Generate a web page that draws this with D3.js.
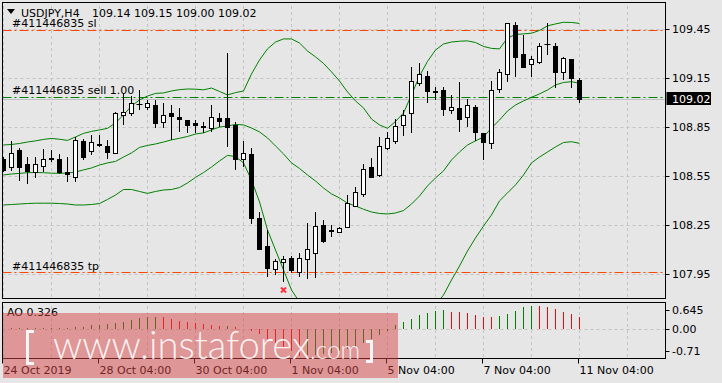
<!DOCTYPE html>
<html>
<head>
<meta charset="utf-8">
<script src="https://cdn.jsdelivr.net/npm/d3@7"></script>
<style>
  html, body { margin: 0; padding: 0; background: #e6e6e6; overflow: hidden; }
  svg { display: block; font-family: "DejaVu Sans", sans-serif; font-size: 11px; }
</style>
</head>
<body>
<svg id="chart" width="722" height="383"></svg>
<script>
// USDJPY H4 candles, 24 Oct 04:00 .. 11 Nov 04:00
const opens = [
  108.655, 108.604, 108.710, 108.625, 108.575, 108.612, 108.662, 108.655, 108.575, 108.547,
  108.767, 108.706, 108.747, 108.735, 108.690, 108.925, 108.935, 108.995, 108.972, 108.986,
  108.880, 108.939, 108.913, 108.894, 108.878, 108.855, 108.843, 108.908, 108.905, 108.864,
  108.653, 108.686, 108.293, 108.122, 107.979, 108.022, 108.046, 107.964, 108.040, 108.077,
  108.251, 108.220, 108.209, 108.240, 108.369, 108.439, 108.608, 108.559, 108.721, 108.767,
  108.862, 108.935, 109.123, 109.164, 109.072, 109.078, 108.956, 108.966, 108.911, 108.976,
  108.813, 108.751, 109.082, 109.174, 109.477, 109.299, 109.236, 109.251, 109.358, 109.348,
  109.187, 109.268, 109.140
];
const highs = [
  108.667, 108.766, 108.723, 108.669, 108.669, 108.718, 108.710, 108.684, 108.666, 108.788,
  108.778, 108.802, 108.802, 108.772, 108.945, 109.058, 109.041, 109.078, 109.017, 109.017,
  108.997, 108.986, 108.966, 108.896, 108.894, 108.884, 108.986, 108.939, 109.303, 108.880,
  108.766, 108.724, 108.332, 108.220, 108.042, 108.060, 108.062, 108.077, 108.265, 108.332,
  108.281, 108.251, 108.236, 108.434, 108.485, 108.625, 108.659, 108.788, 108.819, 108.902,
  108.956, 109.221, 109.245, 109.195, 109.098, 109.098, 109.047, 109.129, 109.021, 108.986,
  108.815, 109.135, 109.205, 109.491, 109.493, 109.415, 109.287, 109.364, 109.487, 109.364,
  109.282, 109.270, 109.150
];
const lows = [
  108.575, 108.583, 108.522, 108.502, 108.537, 108.577, 108.639, 108.561, 108.516, 108.516,
  108.649, 108.680, 108.727, 108.653, 108.684, 108.864, 108.919, 108.956, 108.956, 108.843,
  108.843, 108.772, 108.823, 108.813, 108.813, 108.816, 108.823, 108.853, 108.731, 108.588,
  108.604, 108.257, 108.100, 107.934, 107.944, 107.899, 107.954, 107.930, 107.918, 107.924,
  108.138, 108.179, 108.206, 108.230, 108.363, 108.424, 108.543, 108.543, 108.710, 108.747,
  108.796, 108.813, 109.104, 109.000, 109.017, 108.919, 108.931, 108.823, 108.853, 108.767,
  108.649, 108.715, 109.062, 109.129, 109.160, 109.211, 109.160, 109.237, 109.293, 109.092,
  109.140, 109.092, 109.000
];
const closes = [
  108.588, 108.690, 108.608, 108.580, 108.623, 108.657, 108.658, 108.575, 108.563, 108.772,
  108.666, 108.761, 108.739, 108.700, 108.939, 108.943, 109.000, 108.990, 109.000, 108.874,
  108.925, 108.921, 108.902, 108.862, 108.864, 108.852, 108.911, 108.890, 108.853, 108.657,
  108.690, 108.295, 108.105, 107.989, 108.030, 108.040, 107.975, 108.046, 108.102, 108.244,
  108.154, 108.216, 108.230, 108.383, 108.451, 108.592, 108.547, 108.735, 108.782, 108.857,
  108.925, 109.133, 109.176, 109.074, 109.066, 108.963, 108.972, 108.902, 108.984, 108.823,
  108.761, 109.078, 109.189, 109.487, 109.282, 109.221, 109.266, 109.348, 109.362, 109.190,
  109.272, 109.154, 109.020
];

// Bollinger bands
const bbUpper = [
  108.741, 108.744, 108.750, 108.759, 108.766, 108.775, 108.781, 108.776, 108.769, 108.790,
  108.812, 108.824, 108.833, 108.843, 108.876, 108.925, 108.980, 109.017, 109.041, 109.057,
  109.060, 109.072, 109.080, 109.084, 109.083, 109.079, 109.090, 109.069, 109.048, 109.062,
  109.072, 109.176, 109.262, 109.330, 109.372, 109.391, 109.391, 109.366, 109.317, 109.281,
  109.241, 109.189, 109.133, 109.066, 109.011, 108.968, 108.900, 108.864, 108.843, 108.885,
  108.937, 109.048, 109.164, 109.253, 109.323, 109.360, 109.372, 109.377, 109.379, 109.369,
  109.345, 109.333, 109.330, 109.397, 109.418, 109.422, 109.426, 109.443, 109.471, 109.483,
  109.493, 109.492, 109.486
];
const bbMiddle = [
  108.557, 108.563, 108.567, 108.571, 108.572, 108.571, 108.568, 108.567, 108.569, 108.575,
  108.588, 108.600, 108.618, 108.631, 108.640, 108.667, 108.692, 108.726, 108.738, 108.747,
  108.759, 108.772, 108.782, 108.793, 108.808, 108.815, 108.833, 108.851, 108.857, 108.867,
  108.864, 108.845, 108.821, 108.784, 108.735, 108.686, 108.631, 108.597, 108.557, 108.520,
  108.477, 108.441, 108.416, 108.384, 108.367, 108.347, 108.330, 108.321, 108.318, 108.324,
  108.339, 108.379, 108.428, 108.490, 108.539, 108.582, 108.649, 108.698, 108.741, 108.766,
  108.790, 108.845, 108.894, 108.949, 108.986, 109.011, 109.033, 109.054, 109.078, 109.109,
  109.124, 109.129, 109.119
];
const bbLower = [
  108.373, 108.376, 108.379, 108.382, 108.384, 108.384, 108.384, 108.382, 108.379, 108.373,
  108.373, 108.376, 108.382, 108.407, 108.434, 108.468, 108.468, 108.456, 108.444, 108.456,
  108.465, 108.468, 108.480, 108.508, 108.542, 108.572, 108.606, 108.643, 108.677, 108.670,
  108.631, 108.526, 108.392, 108.220, 108.097, 107.975, 107.852, 107.778, 107.754, 107.729,
  107.711, 107.693, 107.693, 107.705, 107.723, 107.736, 107.754, 107.772, 107.778, 107.766,
  107.742, 107.717, 107.693, 107.717, 107.760, 107.821, 107.913, 107.999, 108.091, 108.171,
  108.244, 108.312, 108.398, 108.447, 108.496, 108.557, 108.631, 108.667, 108.698, 108.729,
  108.756, 108.761, 108.751
];

// Awesome Oscillator
const aoValues = [
  0.020, 0.024, 0.027, 0.030, 0.033, 0.036, 0.039, 0.042, 0.046, 0.055,
  0.075, 0.110, 0.130, 0.135, 0.160, 0.210, 0.250, 0.300, 0.320, 0.340,
  0.320, 0.280, 0.230, 0.190, 0.160, 0.140, 0.120, 0.095, 0.100, 0.070,
  0.020, -0.050, -0.140, -0.250, -0.370, -0.490, -0.600, -0.710, -0.700, -0.690,
  -0.670, -0.640, -0.600, -0.540, -0.470, -0.380, -0.270, -0.150, -0.040, 0.120,
  0.210, 0.280, 0.390, 0.450, 0.500, 0.520, 0.480, 0.460, 0.430, 0.390,
  0.340, 0.320, 0.360, 0.410, 0.500, 0.610, 0.645, 0.630, 0.600, 0.550,
  0.480, 0.410, 0.326
];

const priceTicks = [109.45, 109.15, 108.85, 108.55, 108.25, 107.95];
const aoTicks = [0.645, 0.00, -0.71];
const aoTickLabels = ['0.645', '0.00', '-0.71'];
const timeTickBars = [0, 12, 24, 36, 48, 60, 72];
const timeTickLabels = ['24 Oct 2019', '28 Oct 04:00', '30 Oct 04:00', '1 Nov 04:00', '5 Nov 04:00', '7 Nov 04:00', '11 Nov 04:00'];

const orderLabels = ['#411446835 sl', '#411446835 sell 1.00', '#411446835 tp'];
const orderPrices = [109.445, 109.033, 107.958];
const orderColors = ['#ff4500', '#008000', '#ff4500'];

const headerSymbol = 'USDJPY,H4';
const headerOHLC = '109.14 109.15 109.00 109.02';
const lastPrice = 109.02;
const aoLabel = 'AO 0.326';
const markerBar = 35;
const markerPrice = 107.852;

const left = 2.5, right = 665.5;
const mainTop = 2.5, mainBottom = 298.5;
const aoTop = 302.5, aoBottom = 358.5;
const gridColor = '#c4c4c4';
const crisp = (v) => Math.round(v - 0.5) + 0.5;

const svg = d3.select('#chart');

const x = d3.scaleLinear().domain([0, 72]).range([3.5, 579.5]);
const y = d3.scaleLinear().domain([107.95, 109.45]).range([274, 29.3]);
const aoY = d3.scaleLinear().domain([-0.71, 0.645]).range([355.5, 305.5]);

const defs = svg.append('defs');
defs.append('clipPath').attr('id', 'mainClip')
  .append('rect').attr('x', 3).attr('y', 3).attr('width', 662).attr('height', 295);
defs.append('clipPath').attr('id', 'aoClip')
  .append('rect').attr('x', 3).attr('y', 303).attr('width', 662).attr('height', 55);

// vertical grid every 6 bars (one day)
const gridBars = d3.range(0, 83, 6);
const main = svg.append('g').attr('clip-path', 'url(#mainClip)');
const ao = svg.append('g').attr('clip-path', 'url(#aoClip)');

[main, ao].forEach((g) => {
  g.selectAll('line.vgrid')
    .data(gridBars)
    .enter()
    .append('line')
    .attr('x1', (d) => crisp(x(d)))
    .attr('x2', (d) => crisp(x(d)))
    .attr('y1', 0)
    .attr('y2', 383)
    .attr('stroke', gridColor)
    .attr('stroke-dasharray', '3,3');
});

main.selectAll('line.hgrid')
  .data(priceTicks)
  .enter()
  .append('line')
  .attr('x1', left)
  .attr('x2', right)
  .attr('y1', (d) => crisp(y(d)))
  .attr('y2', (d) => crisp(y(d)))
  .attr('stroke', gridColor)
  .attr('stroke-dasharray', '3,3');

// current price line
main.append('line')
  .attr('x1', left).attr('x2', right)
  .attr('y1', crisp(y(lastPrice))).attr('y2', crisp(y(lastPrice)))
  .attr('stroke', '#c0c0c0');

// order levels
main.selectAll('line.order')
  .data(orderPrices)
  .enter()
  .append('line')
  .attr('x1', left)
  .attr('x2', right)
  .attr('y1', (d) => crisp(y(d)))
  .attr('y2', (d) => crisp(y(d)))
  .attr('stroke', (d, i) => orderColors[i])
  .attr('stroke-dasharray', '9,3,2,3');

// bollinger bands
const bandLine = d3.line().x((d, i) => x(i)).y((d) => y(d));
[bbUpper, bbMiddle, bbLower].forEach((band) => {
  main.append('path')
    .attr('d', bandLine(band))
    .attr('fill', 'none')
    .attr('stroke', '#008000')
    .attr('stroke-width', 1);
});

// candles
const bars = d3.range(opens.length);
const candles = main.selectAll('g.candle')
  .data(bars)
  .enter()
  .append('g');
candles.append('line')
  .attr('x1', (i) => x(i))
  .attr('x2', (i) => x(i))
  .attr('y1', (i) => Math.round(y(highs[i])))
  .attr('y2', (i) => Math.round(y(lows[i])))
  .attr('stroke', '#000');
candles.each(function (i) {
  const g = d3.select(this);
  const top = Math.round(y(Math.max(opens[i], closes[i])));
  const bot = Math.round(y(Math.min(opens[i], closes[i])));
  if (bot - top < 1) {
    g.append('line')
      .attr('x1', x(i) - 3).attr('x2', x(i) + 3)
      .attr('y1', top + 0.5).attr('y2', top + 0.5)
      .attr('stroke', '#000');
  } else {
    g.append('rect')
      .attr('x', x(i) - 2)
      .attr('y', top + 0.5)
      .attr('width', 4)
      .attr('height', bot - top)
      .attr('fill', closes[i] >= opens[i] ? '#fff' : '#000')
      .attr('stroke', '#000');
  }
});

// close marker
const mx = x(markerBar), my = y(markerPrice);
main.append('path')
  .attr('d', `M${mx - 2.5},${my - 2.5}L${mx + 2.5},${my + 2.5}M${mx + 2.5},${my - 2.5}L${mx - 2.5},${my + 2.5}`)
  .attr('stroke', '#ff3340')
  .attr('stroke-width', 2);

// order labels
svg.selectAll('text.order')
  .data(orderLabels)
  .enter()
  .append('text')
  .attr('x', 12)
  .attr('y', (d, i) => y(orderPrices[i]) - 3)
  .attr('fill', '#000')
  .text((d) => d);

// AO zero line and bars
ao.append('line')
  .attr('x1', left).attr('x2', right)
  .attr('y1', crisp(aoY(0))).attr('y2', crisp(aoY(0)))
  .attr('stroke', gridColor)
  .attr('stroke-dasharray', '3,3');
ao.selectAll('line.ao')
  .data(aoValues)
  .enter()
  .append('line')
  .attr('x1', (d, i) => x(i))
  .attr('x2', (d, i) => x(i))
  .attr('y1', Math.round(aoY(0)))
  .attr('y2', (d) => Math.round(aoY(d)))
  .attr('stroke', (d, i) => (i === 0 || d > aoValues[i - 1] ? '#008000' : '#ff0000'));

// frames
svg.append('rect').attr('x', left).attr('y', mainTop)
  .attr('width', right - left).attr('height', mainBottom - mainTop)
  .attr('fill', 'none').attr('stroke', '#000');
svg.append('rect').attr('x', left).attr('y', aoTop)
  .attr('width', right - left).attr('height', aoBottom - aoTop)
  .attr('fill', 'none').attr('stroke', '#000');

// price axis
const yAxis = svg.append('g');
priceTicks.forEach((p) => {
  const py = crisp(y(p));
  yAxis.append('line').attr('x1', right).attr('x2', right + 4).attr('y1', py).attr('y2', py).attr('stroke', '#000');
  yAxis.append('text').attr('x', 672).attr('y', py).attr('dy', '0.36em').text(p.toFixed(2));
});
const lp = y(lastPrice);
yAxis.append('rect').attr('x', 666.5).attr('y', Math.round(lp) - 7).attr('width', 44.5).attr('height', 13).attr('fill', '#000');
yAxis.append('text').attr('x', 672).attr('y', lp).attr('dy', '0.36em').attr('fill', '#fff').text(lastPrice.toFixed(2));

// AO axis (top / bottom labels sit inside the panel)
const aoOffsets = [5, 0, -4];
aoTicks.forEach((v, i) => {
  const py = crisp(aoY(v) + aoOffsets[i]);
  yAxis.append('line').attr('x1', right).attr('x2', right + 4).attr('y1', py).attr('y2', py).attr('stroke', '#000');
  yAxis.append('text').attr('x', 672).attr('y', py).attr('dy', '0.36em').text(aoTickLabels[i]);
});

// time axis
const xAxis = svg.append('g');
timeTickBars.forEach((b, i) => {
  const px = crisp(x(b)) - 1;
  xAxis.append('line').attr('x1', px).attr('x2', px).attr('y1', aoBottom).attr('y2', aoBottom + 5).attr('stroke', '#000');
  xAxis.append('text').attr('x', px + 1).attr('y', 374).text(timeTickLabels[i]);
});

// header
svg.append('path').attr('d', 'M7,9 L15,9 L11,14 Z').attr('fill', '#000');
svg.append('text').attr('x', 21).attr('y', 17).text(headerSymbol);
svg.append('text').attr('x', 92).attr('y', 17).text(headerOHLC);
svg.append('text').attr('x', 7).attr('y', 316).text(aoLabel);

// watermark
const wm = svg.append('g');
wm.append('rect').attr('x', 3).attr('y', 313).attr('width', 395).attr('height', 65)
  .attr('fill', 'rgba(214,70,70,0.5)');
wm.append('path').attr('d', 'M34,331.5 H27.5 V363.5 H34')
  .attr('fill', 'none').attr('stroke', 'rgba(255,255,255,0.9)').attr('stroke-width', 3);
wm.append('path').attr('d', 'M366,341.5 H371.5 V361.5 H366')
  .attr('fill', 'none').attr('stroke', 'rgba(255,255,255,0.9)').attr('stroke-width', 3);
wm.append('text').attr('x', 53).attr('y', 358.5)
  .attr('font-family', 'Lato, "Open Sans", sans-serif').attr('font-weight', 300)
  .attr('font-size', 40).attr('textLength', 257).attr('lengthAdjust', 'spacingAndGlyphs')
  .attr('fill', 'rgba(255,255,255,0.9)').text('www.instaforex');
wm.append('text').attr('x', 310).attr('y', 358.5)
  .attr('font-family', 'Lato, "Open Sans", sans-serif').attr('font-weight', 300)
  .attr('font-size', 25).attr('textLength', 50).attr('lengthAdjust', 'spacingAndGlyphs')
  .attr('fill', 'rgba(255,255,255,0.9)').text('.com');
</script>
</body>
</html>
